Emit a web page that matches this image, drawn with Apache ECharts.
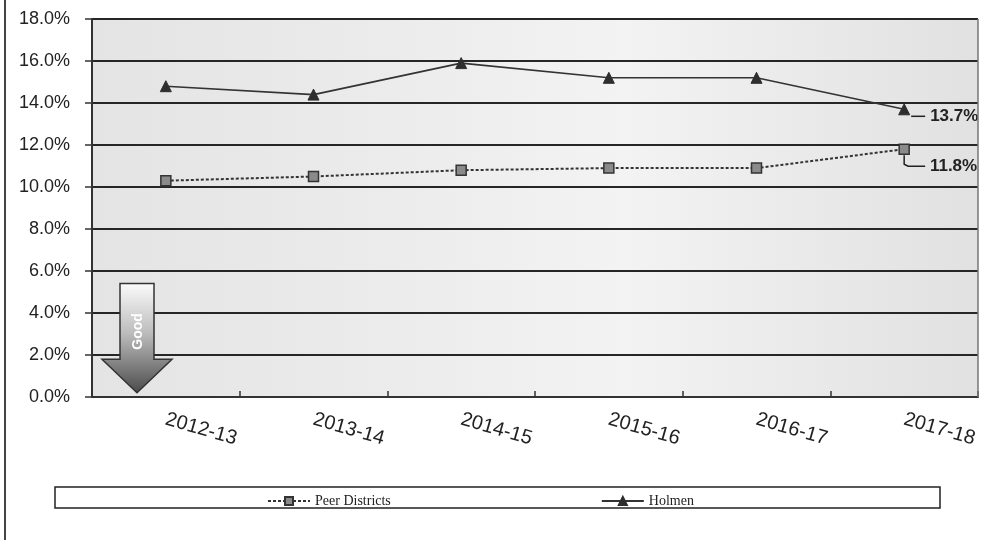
<!DOCTYPE html>
<html>
<head>
<meta charset="utf-8">
<script src="https://cdn.jsdelivr.net/npm/echarts@6/dist/echarts.min.js"></script>
<style>
  html, body { margin: 0; padding: 0; background: #ffffff; }
  #chart { width: 987px; height: 540px; }
</style>
</head>
<body>
<div id="chart"></div>
<script>
// School years on the horizontal axis
const years = ['2012-13', '2013-14', '2014-15', '2015-16', '2016-17', '2017-18'];
// Rates in percent
const peerDistricts = [10.3, 10.5, 10.8, 10.9, 10.9, 11.8];
const holmen = [14.8, 14.4, 15.9, 15.2, 15.2, 13.7];
// Vertical axis range and step (percent)
const yMin = 0;
const yMax = 18;
const yStep = 2;

const chart = echarts.init(document.getElementById('chart'), null, { renderer: 'canvas' });

const sans = 'Liberation Sans, Arial, sans-serif';
const serif = 'Liberation Serif, DejaVu Serif, serif';
const ink = '#222222';

const lastIdx = years.length - 1;

function endLabel(offsetY) {
  return {
    show: true,
    position: 'right',
    distance: 20,
    offset: [0, offsetY],
    fontFamily: sans,
    fontSize: 17,
    fontWeight: 'bold',
    color: ink,
    formatter: p => p.value.toFixed(1) + '%'
  };
}

function withEndLabel(values, offsetY) {
  return values.map((v, i) => i === lastIdx ? { value: v, label: endLabel(offsetY) } : v);
}

chart.setOption({
  animation: false,
  backgroundColor: '#ffffff',
  grid: {
    left: 92, right: 9, top: 19, bottom: 143,
    show: true,
    borderWidth: 0,
    backgroundColor: new echarts.graphic.LinearGradient(0, 0, 1, 0, [
      { offset: 0, color: '#e4e4e4' },
      { offset: 0.35, color: '#ececec' },
      { offset: 0.6, color: '#f3f3f3' },
      { offset: 1, color: '#e1e1e1' }
    ])
  },
  legend: {
    left: 262,
    top: 489,
    itemWidth: 42,
    itemHeight: 10,
    itemGap: 210,
    textStyle: { fontFamily: serif, fontSize: 14, color: ink },
    data: ['Peer Districts', 'Holmen']
  },
  xAxis: {
    type: 'category',
    data: years,
    boundaryGap: true,
    axisLine: { show: true, lineStyle: { color: '#333', width: 2 } },
    axisTick: { show: true, inside: true, length: 6, lineStyle: { color: '#333', width: 1.5 } },
    axisLabel: {
      rotate: -16,
      margin: 22,
      fontFamily: sans,
      fontSize: 20,
      color: ink
    }
  },
  yAxis: {
    type: 'value',
    min: yMin,
    max: yMax,
    interval: yStep,
    axisLine: { show: true, lineStyle: { color: '#333', width: 2 } },
    axisTick: { show: true, length: 7, lineStyle: { color: '#333', width: 1.5 } },
    axisLabel: {
      margin: 22,
      fontFamily: sans,
      fontSize: 18,
      color: ink,
      formatter: v => v.toFixed(1) + '%'
    },
    splitLine: { show: true, lineStyle: { color: '#262626', width: 2 } }
  },
  series: [
    {
      name: 'Peer Districts',
      type: 'line',
      data: withEndLabel(peerDistricts, 17),
      symbol: 'rect',
      symbolSize: 10,
      z: 3,
      lineStyle: { color: '#333', width: 2, type: [3, 2] },
      itemStyle: { color: '#8a8a8a', borderColor: '#333', borderWidth: 1.5 }
    },
    {
      name: 'Holmen',
      type: 'line',
      data: withEndLabel(holmen, 7),
      symbol: 'triangle',
      symbolSize: 11,
      z: 4,
      lineStyle: { color: '#333', width: 1.6 },
      itemStyle: { color: '#2e2e2e', borderColor: '#2e2e2e', borderWidth: 1 }
    }
  ]
});

// Leader lines from the last markers to their value labels, placed through the axis scales
const holmenEnd = chart.convertToPixel({ seriesIndex: 1 }, [lastIdx, holmen[lastIdx]]);
const peerEnd = chart.convertToPixel({ seriesIndex: 0 }, [lastIdx, peerDistricts[lastIdx]]);

// Arrow geometry anchored to the axis: shaft top near 5%, tip at 0%
const arrowTop = chart.convertToPixel({ yAxisIndex: 0 }, 5.4);
const arrowNeck = chart.convertToPixel({ yAxisIndex: 0 }, 1.8);
const arrowTip = chart.convertToPixel({ yAxisIndex: 0 }, 0.2);
const ax = 137;

chart.setOption({
  graphic: [
    // outer frame edge on the left
    { type: 'line', shape: { x1: 5, y1: 0, x2: 5, y2: 540 }, style: { stroke: '#444', lineWidth: 2 }, z: 10 },
    // right edge of the plot area
    { type: 'line', shape: { x1: 978, y1: 19, x2: 978, y2: 397 }, style: { stroke: '#777', lineWidth: 1.5 }, z: 10 },
    // legend frame
    { type: 'rect', shape: { x: 55, y: 487, width: 885, height: 21 }, style: { fill: '#fff', stroke: '#222', lineWidth: 1.5 }, z: -1 },
    // leader to 13.7%
    {
      type: 'polyline',
      shape: { points: [[holmenEnd[0] + 7, holmenEnd[1] + 7], [holmenEnd[0] + 21, holmenEnd[1] + 7]] },
      style: { stroke: '#222', lineWidth: 1.5, fill: null },
      z: 10
    },
    // elbow leader to 11.8%
    {
      type: 'polyline',
      shape: { points: [[peerEnd[0], peerEnd[1] + 6], [peerEnd[0], peerEnd[1] + 15], [peerEnd[0] + 4, peerEnd[1] + 17], [peerEnd[0] + 21, peerEnd[1] + 17]] },
      style: { stroke: '#222', lineWidth: 1.5, fill: null },
      z: 10
    },
    // "Good" direction arrow
    {
      type: 'polygon',
      shape: {
        points: [
          [ax - 17, arrowTop], [ax + 17, arrowTop], [ax + 17, arrowNeck], [ax + 35, arrowNeck],
          [ax, arrowTip], [ax - 35, arrowNeck], [ax - 17, arrowNeck]
        ]
      },
      style: {
        fill: new echarts.graphic.LinearGradient(0, 0, 0, 1, [
          { offset: 0, color: '#fbfbfb' },
          { offset: 0.45, color: '#bdbdbd' },
          { offset: 1, color: '#4a4a4a' }
        ]),
        stroke: '#333',
        lineWidth: 1.5
      },
      z: 20
    },
    {
      type: 'text',
      x: ax + 1,
      y: (arrowTop + arrowNeck) / 2 + 10,
      rotation: Math.PI / 2,
      style: {
        text: 'Good',
        fontFamily: sans,
        fontSize: 14,
        fontWeight: 'bold',
        fill: '#ffffff',
        align: 'center',
        verticalAlign: 'middle'
      },
      z: 21
    }
  ]
});
</script>
</body>
</html>
